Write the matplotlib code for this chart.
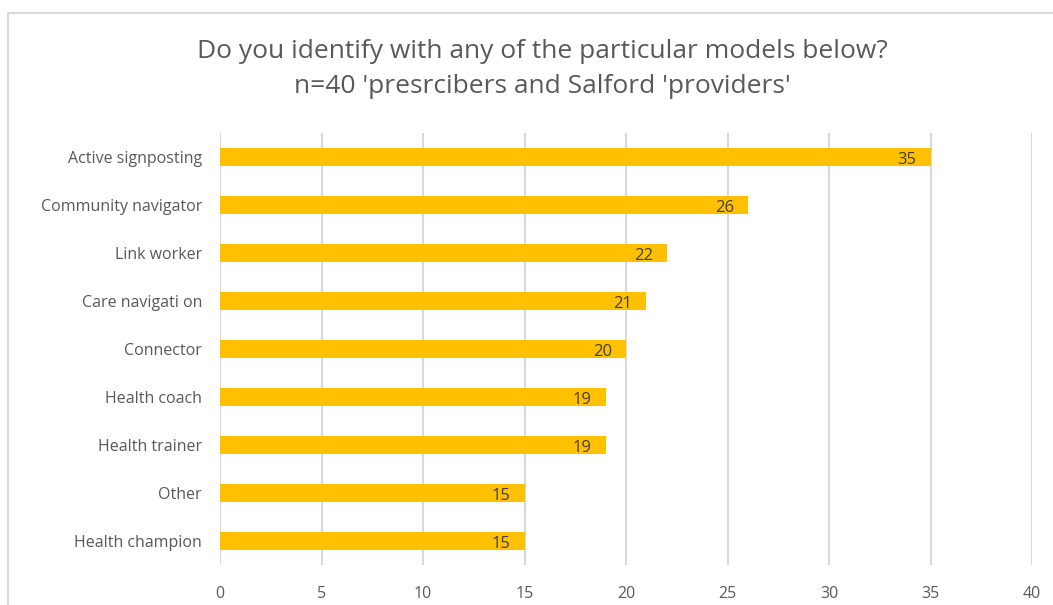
import matplotlib.pyplot as plt
from matplotlib.patches import Rectangle

categories = ["Active signposting", "Community navigator", "Link worker",
              "Care navigati on", "Connector", "Health coach",
              "Health trainer", "Other", "Health champion"]
counts = [35, 26, 22, 21, 20, 19, 19, 15, 15]
xticks = [0, 5, 10, 15, 20, 25, 30, 35, 40]

plt.rcParams['font.family'] = ['Open Sans', 'DejaVu Sans']
text_color = '#595959'

fig = plt.figure(figsize=(10.53, 6.05), dpi=100)

# chart frame (light grey border running off the bottom/right)
fig.patches.append(Rectangle((8 / 1053, -0.1), 1.2, 1 - 13 / 605 + 0.1,
                             transform=fig.transFigure, fill=False,
                             edgecolor='#d9d9d9', linewidth=1.5))

ax = fig.add_axes([220 / 1053, 1 - 565 / 605, 812 / 1053, 432 / 605])

ypos = list(range(len(categories)))
ax.barh(ypos, counts, height=0.36, color='#FFC000', zorder=2)
ax.set_ylim(len(categories) - 0.5, -0.5)
ax.set_xlim(0, 40)

for y, v in zip(ypos, counts):
    ax.annotate(str(v), (v, y), xytext=(-10, -2), textcoords='offset points',
                ha='right', va='center', fontsize=12, color='#404040', zorder=3)

ax.set_yticks(ypos)
ax.set_yticklabels(categories, fontsize=11.5, color=text_color)
ax.set_xticks(xticks)
ax.set_xticklabels([str(t) for t in xticks], fontsize=11.5, color=text_color)
ax.tick_params(axis='both', length=0)
ax.tick_params(axis='y', pad=13)
ax.tick_params(axis='x', pad=15)
ax.grid(axis='x', color='#d9d9d9', linewidth=1.5, zorder=0)
for s in ax.spines.values():
    s.set_visible(False)

fig.text(542 / 1053, 1 - 69 / 605,
         "Do you identify with any of the particular models below?\n"
         "n=40 'presrcibers and Salford 'providers'",
         ha='center', va='center', fontsize=19, color=text_color,
         linespacing=1.55)

fig.savefig('out.png', dpi=100)
